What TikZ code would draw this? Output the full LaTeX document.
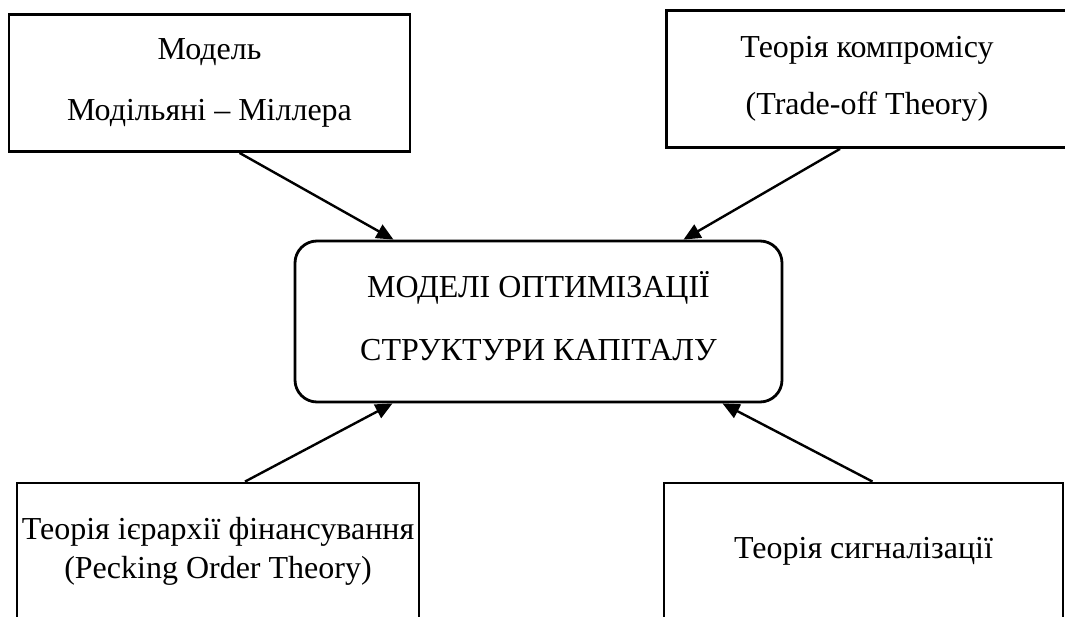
\documentclass[tikz,border=0pt]{standalone}
\usepackage{fontspec}
\setmainfont{Liberation Serif}
\usetikzlibrary{arrows.meta}
\begin{document}
\begin{tikzpicture}[x=1pt, y=-1pt, line width=2.8pt,
    theory/.style={draw, rectangle, align=center, inner sep=0pt, minimum width=401pt, minimum height=137pt},
    centre/.style={draw, rounded corners=22pt, align=center, inner sep=0pt, minimum width=487pt, minimum height=161pt},
    link/.style={-{Triangle[length=17pt, width=15pt]}, line width=2.4pt}]
        \useasboundingbox (0, 0) rectangle (1065, 617);
        \clip (0, 0) rectangle (1065, 617);
        \node[theory, font=\fontsize{32}{61}\selectfont] (mm) at (209.5, 83) {Модель\\Модільяні – Міллера};
        \node[theory, font=\fontsize{32}{57}\selectfont] (trade) at (867, 79) {Теорія компромісу\\(Trade-off Theory)};
        \node[centre, font=\fontsize{32}{63}\selectfont] (models) at (538.5, 321.5) {МОДЕЛІ ОПТИМІЗАЦІЇ\\СТРУКТУРИ КАПІТАЛУ\rule[-12pt]{0pt}{0pt}};
        \node[theory, minimum width=402pt, font=\fontsize{32}{39}\selectfont] (pecking) at (218, 551.5) {Теорія ієрархії фінансування\\(Pecking Order Theory)\rule[-4pt]{0pt}{0pt}};
        \node[theory, minimum width=399pt, font=\fontsize{32}{39}\selectfont] (signal) at (863.5, 551.5) {Теорія сигналізації};

        \draw[link] ([xshift=30pt]mm.south) -- ([xshift=-145pt]models.north);
        \draw[link] ([xshift=-27pt]trade.south) -- ([xshift=145pt]models.north);
        \draw[link] ([xshift=27pt]pecking.north) -- ([xshift=-146pt]models.south);
        \draw[link] ([xshift=9pt]signal.north) -- ([xshift=184pt]models.south);
    \end{tikzpicture}
\end{document}
